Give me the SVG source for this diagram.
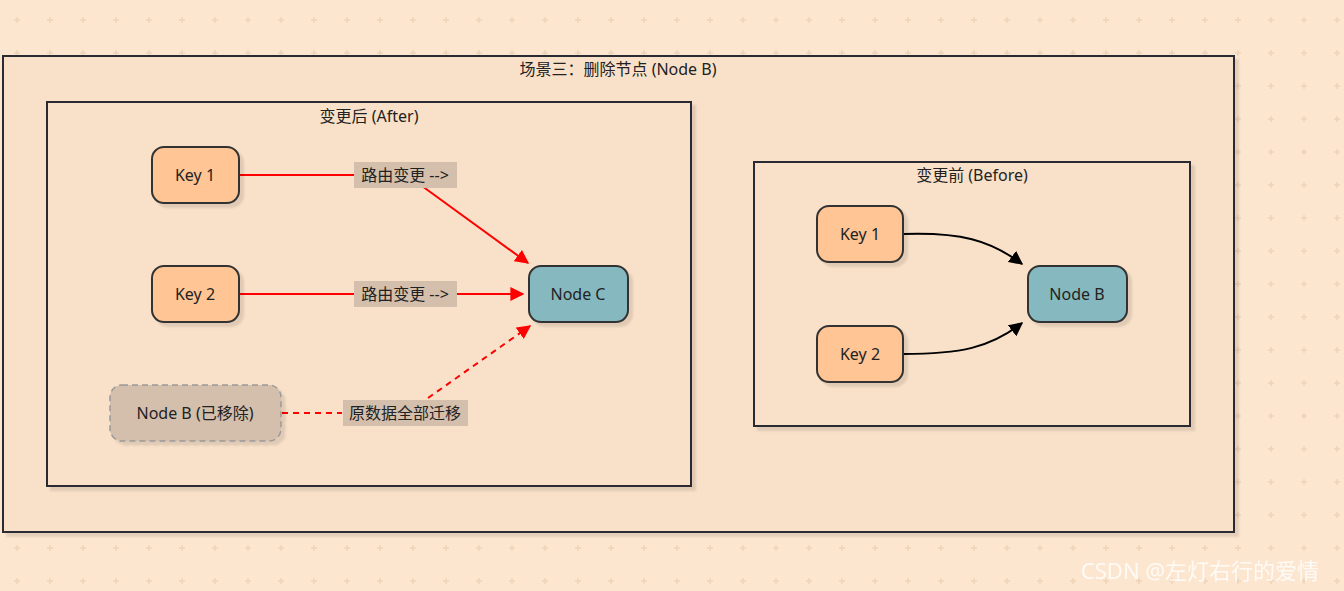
<svg xmlns="http://www.w3.org/2000/svg" width="1344" height="591" viewBox="0 0 1344 591">
<defs>
<pattern id="bg" width="33" height="33" patternUnits="userSpaceOnUse" x="0" y="0">
<path d="M14 20h6M17 17v6" stroke="#eed3b8" stroke-width="1.5"/>
</pattern>
<marker id="ar" viewBox="0 0 10 10" refX="9" refY="5" markerWidth="7" markerHeight="7" orient="auto"><path d="M0 0L10 5L0 10z" fill="#ff0000"/></marker>
<marker id="ab" viewBox="0 0 10 10" refX="9" refY="5" markerWidth="7" markerHeight="7" orient="auto"><path d="M0 0L10 5L0 10z" fill="#000"/></marker>
<filter id="sh" x="-20%" y="-20%" width="150%" height="150%"><feDropShadow dx="4" dy="4" stdDeviation="1" flood-color="#000" flood-opacity="0.1"/></filter>
</defs>
<style>
text{font-family:"Noto Sans","Noto Sans CJK SC",sans-serif;font-size:16px;fill:#222;text-anchor:middle;dominant-baseline:central}
.cl{fill:#f9e1c9;stroke:#2b2b33;stroke-width:2;filter:url(#sh)}
.key{fill:#ffc594;stroke:#333;stroke-width:2;filter:url(#sh)}
.nd{fill:#86b9bf;stroke:#333;stroke-width:2;filter:url(#sh)}
.rm{fill:#d4bfac;stroke:#999;stroke-width:1.5;stroke-dasharray:6 4;filter:url(#sh)}
.lb{fill:#d4bfac}
.r{stroke:#ff0000;stroke-width:2;fill:none}
.b{stroke:#000;stroke-width:2;fill:none}
</style>
<rect width="1344" height="591" fill="#fde6cf"/>
<rect width="1344" height="591" fill="url(#bg)"/>
<g id="clusters">
<rect class="cl" x="3" y="56" width="1231" height="476"/>
<text x="618" y="69">场景三：删除节点 (Node B)</text>
<rect class="cl" x="47" y="102" width="644" height="384"/>
<text x="369" y="116">变更后 (After)</text>
<rect class="cl" x="754" y="162" width="436" height="264"/>
<text x="972" y="175">变更前 (Before)</text>
</g>
<g id="connectors">
<path class="r" d="M239 175H354"/>
<path class="r" d="M422 186L528 263" marker-end="url(#ar)"/>
<path class="r" d="M239 294H354M457 294H523" marker-end="url(#ar)"/>
<path class="r" d="M282 413H342" stroke-dasharray="6 5"/>
<path class="r" d="M428 398L530 326" stroke-dasharray="6 5" marker-end="url(#ar)"/>
<path class="b" d="M903 234C960 232 990 240 1022 264" marker-end="url(#ab)"/>
<path class="b" d="M903 354C960 354 990 348 1022 323" marker-end="url(#ab)"/>
<rect class="lb" x="354" y="162" width="103" height="26"/>
<text x="405" y="175">路由变更 --&gt;</text>
<rect class="lb" x="354" y="281" width="103" height="26"/>
<text x="405" y="294">路由变更 --&gt;</text>
<rect class="lb" x="343" y="400" width="125" height="26"/>
<text x="405" y="413">原数据全部迁移</text>
</g>
<g id="a-key1"><rect class="key" x="152" y="147" width="87" height="56" rx="12"/><text x="195" y="175">Key 1</text></g>
<g id="a-key2"><rect class="key" x="152" y="266" width="87" height="56" rx="12"/><text x="195" y="294">Key 2</text></g>
<g id="a-nodec"><rect class="nd" x="529" y="266" width="99" height="56" rx="12"/><text x="578" y="294">Node C</text></g>
<g id="a-nodeb"><rect class="rm" x="110" y="385" width="171" height="56" rx="12"/><text x="195" y="413">Node B (已移除)</text></g>
<g id="b-key1"><rect class="key" x="817" y="206" width="86" height="56" rx="12"/><text x="860" y="234">Key 1</text></g>
<g id="b-key2"><rect class="key" x="817" y="326" width="86" height="56" rx="12"/><text x="860" y="354">Key 2</text></g>
<g id="b-nodeb"><rect class="nd" x="1028" y="266" width="99" height="56" rx="12"/><text x="1077" y="294">Node B</text></g>
<text x="1200" y="570" style="font-size:22px;fill:#ffffff;opacity:0.8">CSDN @左灯右行的爱情</text>
</svg>
